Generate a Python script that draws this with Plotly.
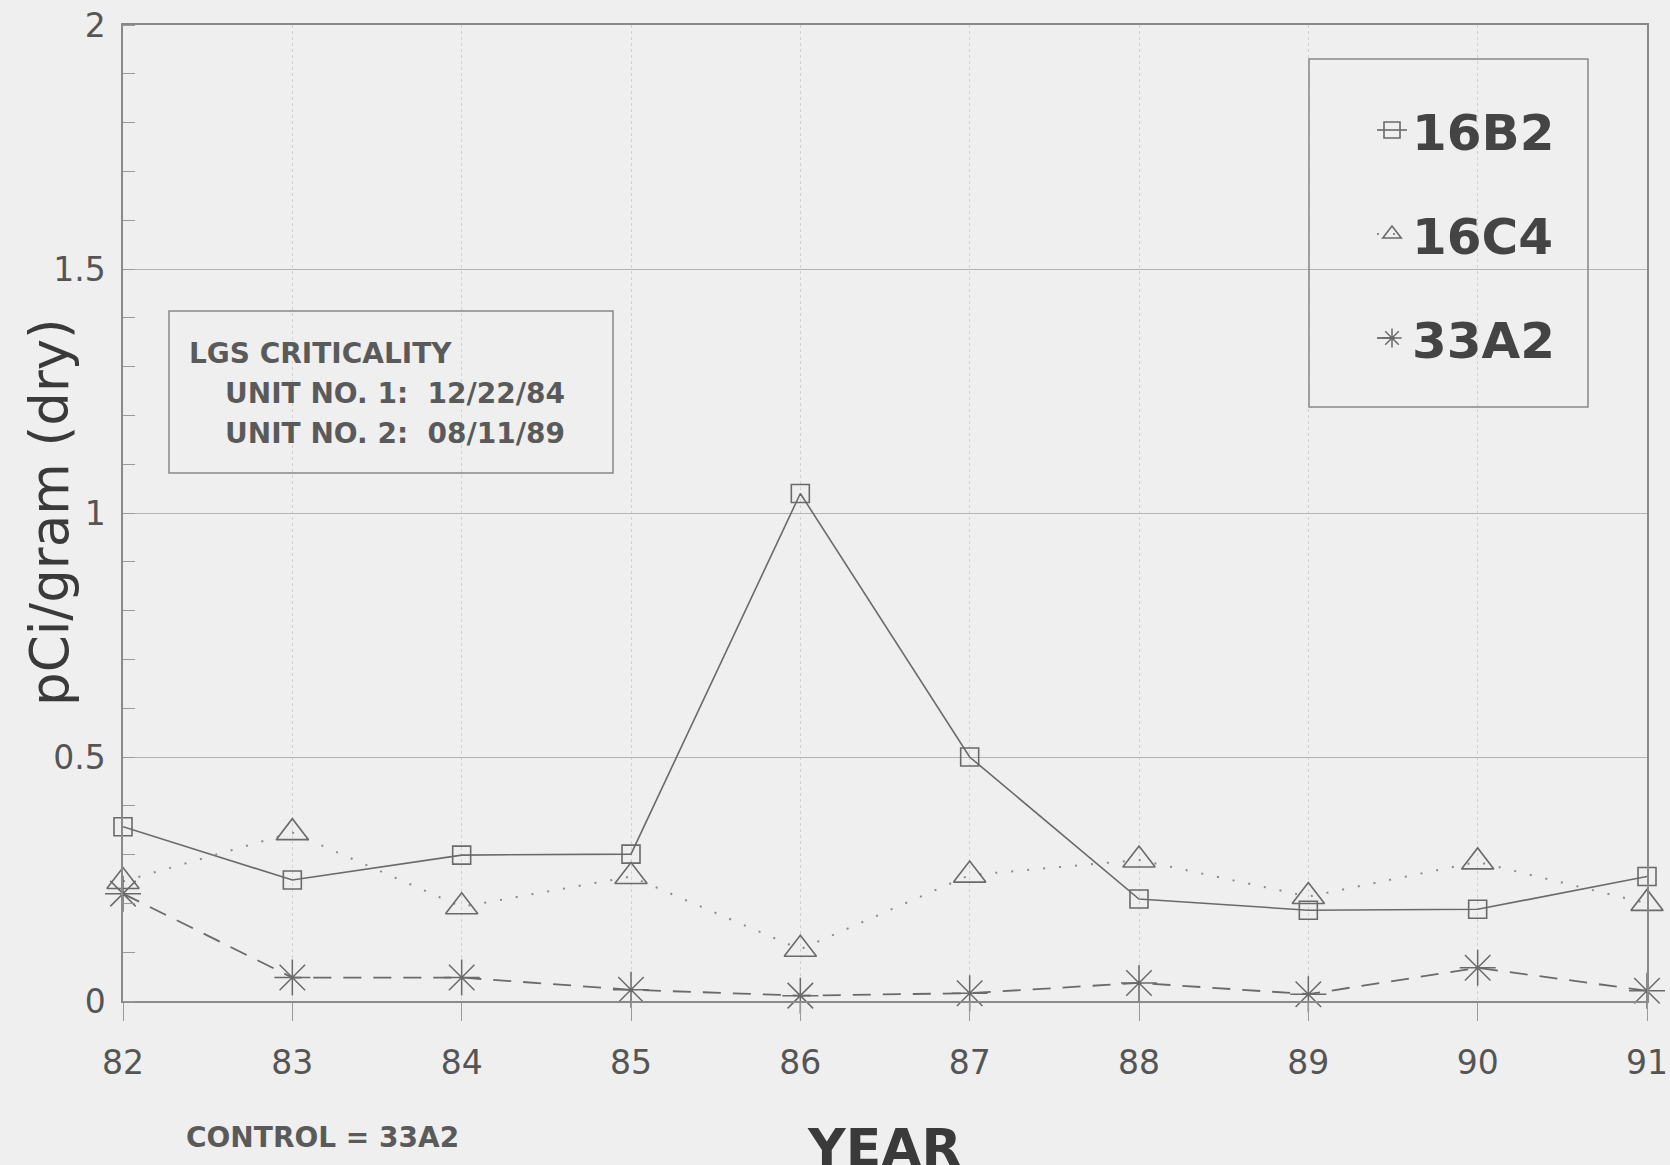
import plotly.graph_objects as go

years = [82, 83, 84, 85, 86, 87, 88, 89, 90, 91]
tick_labels = ["82", "83", "84", "85", "86", "87", "88", "89", "90", "91"]
s16B2 = [0.357, 0.248, 0.299, 0.301, 1.04, 0.50, 0.209, 0.186, 0.188, 0.255]
s16C4 = [0.245, 0.345, 0.193, 0.255, 0.106, 0.258, 0.289, 0.214, 0.285, 0.20]
s33A2 = [0.22, 0.048, 0.048, 0.023, 0.011, 0.016, 0.037, 0.014, 0.068, 0.021]

W, H = 1670, 1165
L, R, T, B = 123, 23, 25, 164
PW, PH = W - L - R, H - T - B

def px(x):
    return (x - L) / PW

def py(y):
    return (T + PH - y) / PH

INK = "#6a6a6a"
TXT = "#4a4a4a"
BG = "#efefef"

fig = go.Figure()
fig.add_trace(go.Scatter(
    x=years, y=s16B2, name="16B2", mode="lines+markers", legendgroup="a",
    line=dict(color=INK, width=1.6, dash="solid"),
    marker=dict(symbol="square-open", size=18, color=INK, line=dict(width=1.6, color=INK)),
    cliponaxis=False))
fig.add_trace(go.Scatter(
    x=years, y=s16C4, name="16C4", mode="lines+markers", legendgroup="b",
    line=dict(color="#8a8a8a", width=2, dash="2px,14px"),
    marker=dict(symbol="triangle-up-open", size=28, color=INK, line=dict(width=1.6, color=INK)),
    cliponaxis=False))
fig.add_trace(go.Scatter(
    x=years, y=s33A2, name="33A2", mode="lines+markers", legendgroup="c",
    line=dict(color=INK, width=1.8, dash="18px,12px"),
    marker=dict(symbol="asterisk-open", size=30, color=INK, line=dict(width=1.5, color=INK)),
    cliponaxis=False))

shapes = [
    dict(type="rect", xref="paper", yref="paper",
         x0=px(169), x1=px(613), y0=py(473), y1=py(311),
         line=dict(color="#888888", width=1.5), fillcolor="rgba(0,0,0,0)", layer="above"),
    dict(type="rect", xref="paper", yref="paper",
         x0=px(1309), x1=px(1588), y0=py(407), y1=py(59),
         line=dict(color="#888888", width=1.5), fillcolor="rgba(0,0,0,0)", layer="above"),
]

ann = []
def text(x, y, s, size, bold=False, xanchor="left", angle=0, color=TXT, family="DejaVu Sans"):
    ann.append(dict(xref="paper", yref="paper", x=px(x), y=py(y), text=s,
                    showarrow=False, xanchor=xanchor, yanchor="middle", textangle=angle,
                    font=dict(family=family, size=size, color=color,
                              weight="bold" if bold else "normal")))

text(187, 353, "LGS CRITICALITY", 28, bold=True, color="#5a5a5a")
text(223, 393, "UNIT NO. 1:  12/22/84", 28, bold=True, color="#5a5a5a")
text(223, 433, "UNIT NO. 2:  08/11/89", 28, bold=True, color="#5a5a5a")
text(184, 1137, "CONTROL = 33A2", 28, bold=True, color="#5a5a5a")
text(884, 1148, "YEAR", 52, bold=True, xanchor="center", color="#3a3a3a")
text(49, 512, "pCi/gram (dry)", 53, xanchor="center", angle=-90, color="#3a3a3a")

fig.update_layout(
    width=W, height=H,
    margin=dict(l=L, r=R, t=T, b=B),
    paper_bgcolor=BG, plot_bgcolor=BG,
    showlegend=True,
    legend=dict(x=px(1372), y=py(91), xanchor="left", yanchor="top",
                bgcolor="rgba(0,0,0,0)", borderwidth=0, tracegroupgap=36,
                font=dict(family="DejaVu Sans", size=50, color="#444444", weight="bold")),
    shapes=shapes, annotations=ann,
    xaxis=dict(range=[82, 91], tickmode="array", tickvals=years, ticktext=tick_labels,
               automargin=False,
               showline=True, linecolor="#8a8a8a", linewidth=1.5, mirror=True,
               showgrid=True, gridcolor="#d2d2d2", griddash="dot", gridwidth=1,
               ticks="outside", ticklen=18, tickcolor="#9a9a9a", tickwidth=1,
               ticklabelstandoff=14,
               tickfont=dict(family="DejaVu Sans", size=33, color="#555555"),
               zeroline=False),
    yaxis=dict(range=[0, 2], tickvals=[0, 0.5, 1, 1.5, 2], ticktext=["0", "0.5", "1", "1.5", "2"],
               automargin=False,
               showline=True, linecolor="#8a8a8a", linewidth=1.5, mirror=True,
               showgrid=True, gridcolor="#b4b4b4", gridwidth=1.2,
               ticks="", ticklabelstandoff=9,
               minor=dict(dtick=0.1, ticks="inside", ticklen=12, tickcolor="#9a9a9a", showgrid=False),
               tickfont=dict(family="DejaVu Sans", size=33, color="#555555"),
               zeroline=False),
)

fig.write_html("out.html", config={"displayModeBar": False},
               post_script="document.body.style.margin='0';document.body.style.overflow='hidden';")
